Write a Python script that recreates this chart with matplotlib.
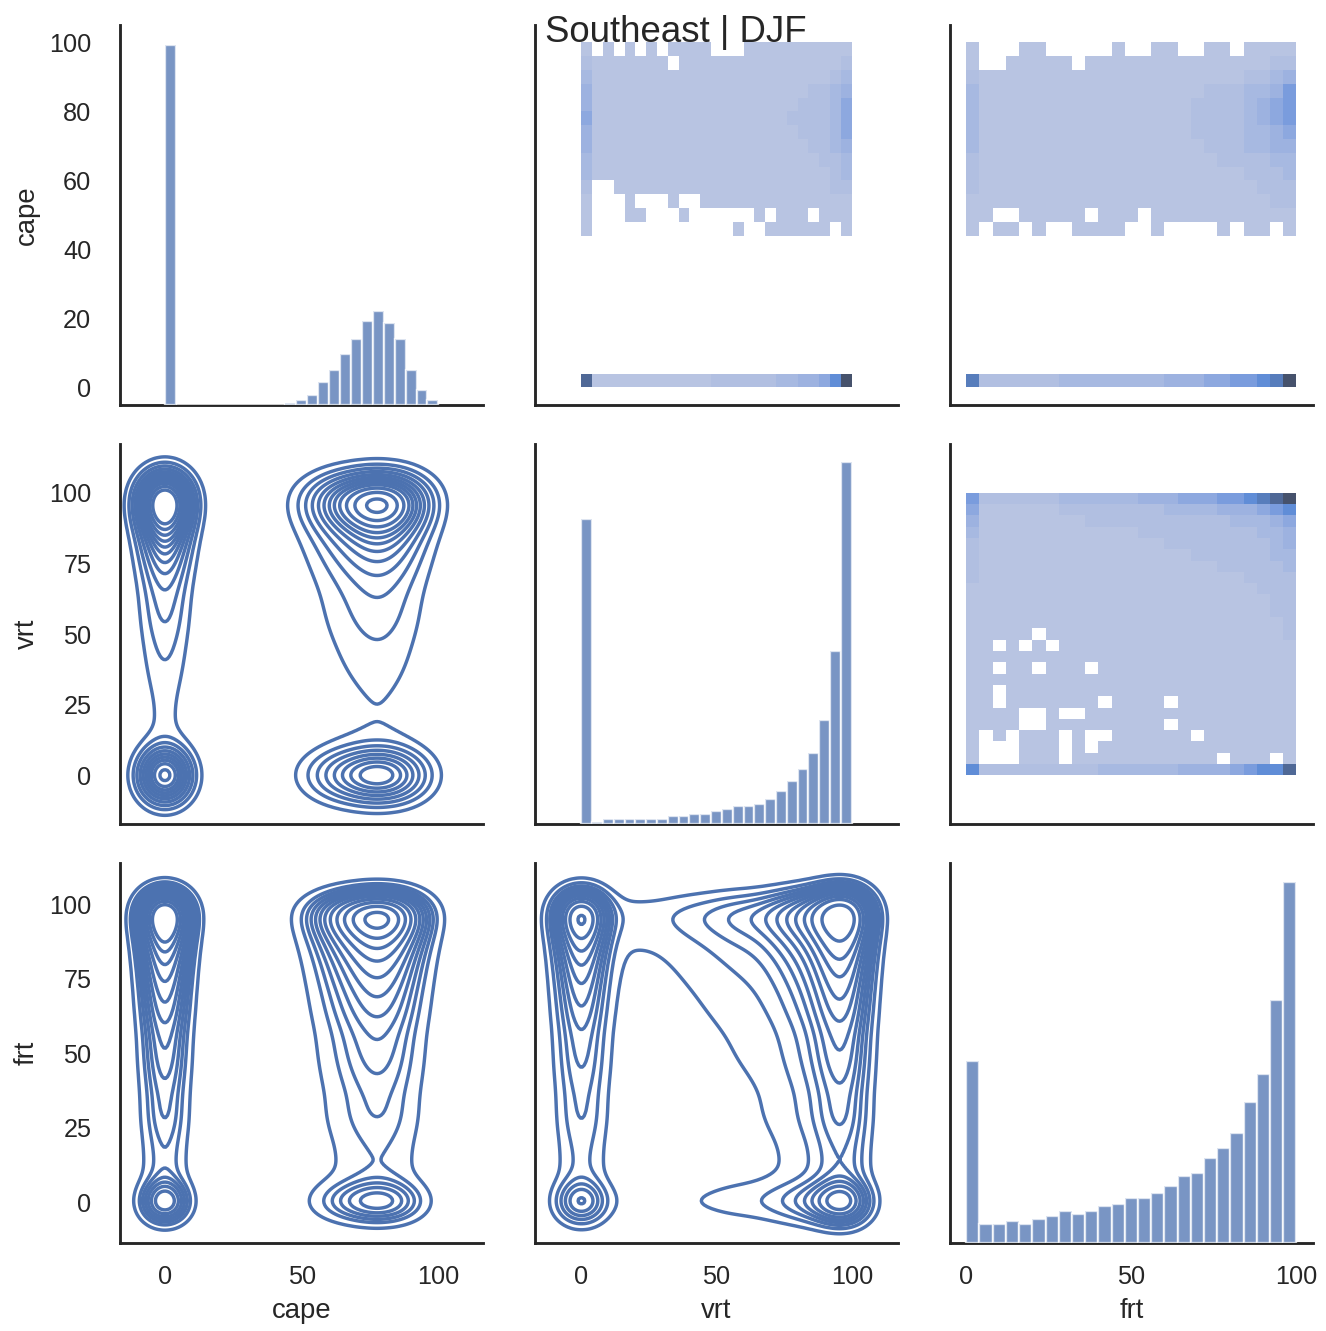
import numpy as np
import matplotlib
matplotlib.use("Agg")
import matplotlib.pyplot as plt
import matplotlib.colors as mcolors
import seaborn as sns
from seaborn.external import husl

# ---------------- data ----------------
variables = ["cape", "vrt", "frt"]
title = "Southeast | DJF"

bin_edges = np.arange(0, 101, 4)  # 25 bins of width 4 on 0..100

# diagonal histograms (relative counts per bin)
cape_counts = [1075, 0, 0, 0, 0, 0, 0, 0, 0, 0, 0,
               5, 15, 30, 67, 105, 150, 197, 250, 280, 243, 197, 105, 45, 15]
vrt_counts = [912, 5, 15, 15, 15, 15, 15, 15, 22, 22, 30, 30, 38, 45,
              52, 52, 60, 75, 98, 128, 165, 212, 310, 517, 1080]
frt_counts = [543, 56, 56, 65, 56, 73, 80, 95, 86, 95, 110, 118, 133, 133,
              148, 170, 201, 210, 255, 285, 330, 421, 505, 726, 1078]

n_obs = 107000   # sample size guessed from the kde support (bw ~ 5.5 for cape)
kde_levels = 13

x_ticks = [0, 50, 100]
y_ticks = {"cape": [0, 20, 40, 60, 80, 100],
           "vrt": [0, 25, 50, 75, 100],
           "frt": [0, 25, 50, 75, 100]}

# 2d histogram shades, first string = highest y bin, '.' = empty cell
empty = "." * 25
cape_vs_vrt = [
    "1.1.1.1.1111...1111111111",
    "2" + "1" * 7 + "." + "1" * 15 + "2",
    "3" + "1" * 22 + "23",
    "4" + "1" * 20 + "2234",
    "4" + "1" * 19 + "22235",
    "5" + "1" * 18 + "222235",
    "4" + "1" * 19 + "22235",
    "4" + "1" * 20 + "2234",
    "3" + "1" * 21 + "223",
    "3" + "1" * 22 + "23",
    "2.." + "1" * 20 + "22",
    "1...1...1.." + "1" * 14,
    "1...11...1......1.111.111",
    "1" + "." * 13 + "1..111111.1",
] + [empty] * 10 + [
    "9" + "1" * 11 + "2" * 6 + "3344" + "57#",
]
cape_vs_frt = [
    "1...11.....1..11..11.1111",
    "1..11111." + "1" * 14 + "22",
    "2" + "1" * 20 + "2234",
    "3" + "1" * 17 + "222" + "3346",
    "3" + "1" * 16 + "2222" + "3456",
    "3" + "1" * 16 + "2222" + "3456",
    "3" + "1" * 16 + "2222" + "3345",
    "3" + "1" * 17 + "222" + "3344",
    "2" + "1" * 18 + "222" + "233",
    "2" + "1" * 20 + "2223",
    "2" + "1" * 21 + "222",
    "1" * 23 + "22",
    "11..11111.111.11111111111",
    "1.11.1..1111..1....1.11.1",
] + [empty] * 10 + [
    "8" + "2" * 6 + "3" * 8 + "444" + "55" + "66" + "78#",
]
vrt_vs_frt = [
    "6" + "2" * 6 + "3" * 6 + "444" + "555" + "66" + "789#",
    "5" + "1" * 6 + "2" * 8 + "3333" + "44" + "4567",
    "4" + "1" * 8 + "2" * 11 + "33345",
    "3" + "1" * 12 + "2" * 9 + "334",
    "2" + "1" * 14 + "2" * 8 + "34",
    "2" + "1" * 16 + "2" * 6 + "33",
    "2" + "1" * 18 + "2" * 5 + "3",
    "2" + "1" * 20 + "2222",
    "1" * 22 + "222",
    "1" * 23 + "22",
    "1" * 23 + "22",
    "1" * 24 + "2",
    "11111." + "1" * 18 + "2",
    "11.1.1." + "1" * 18,
    "1" * 25,
    "11.11.111." + "1" * 15,
    "1" * 25,
    "11." + "1" * 22,
    "11.1111111.1111.111111111",
    "1111..1.." + "1" * 16,
    "1111..111111111.111111111",
    "1.1.111.1..111111.1111111",
    "1...111.1." + "1" * 15,
    "1...111." + "1" * 11 + ".111.1",
    "7" + "2" * 9 + "3" * 6 + "4444" + "5677" + "9",
]
shade_chars = "123456789#"
shade_values = [0.02, 0.06, 0.11, 0.17, 0.25, 0.35, 0.48, 0.62, 0.8, 1.0]

counts = {"cape": cape_counts, "vrt": vrt_counts, "frt": frt_counts}
hist2d = {(0, 1): cape_vs_vrt, (0, 2): cape_vs_frt, (1, 2): vrt_vs_frt}

# ---------------- helpers ----------------
centers = bin_edges[:-1] + 2.0
kde_points = centers.copy()
kde_points[0] = 0.0  # the spike values sit at exactly 0


def grid_to_array(rows):
    vals = np.full((25, 25), np.nan)
    for i, row in enumerate(rows[::-1]):
        if len(row) != 25:
            raise ValueError(f"bad row {i}: {row}")
        for j, ch in enumerate(row):
            if ch != ".":
                vals[i, j] = shade_values[shade_chars.index(ch)]
    return np.ma.masked_invalid(vals)


def kde_1d(cnt):
    w = np.asarray(cnt, float)
    w = w / w.sum()
    mean = np.sum(w * kde_points)
    std = np.sqrt(np.sum(w * (kde_points - mean) ** 2))
    bw = std * n_obs ** (-1 / 6)
    grid = np.linspace(kde_points.min() - 3 * bw, bin_edges[-1] + 3 * bw, 200)
    z = (grid[:, None] - kde_points[None, :]) / bw
    dens = (w * np.exp(-0.5 * z ** 2)).sum(axis=1) / (bw * np.sqrt(2 * np.pi))
    return grid, dens


def iso_levels(dens, n):
    props = np.linspace(0.05, 1, n)
    vals = np.sort(dens.ravel())[::-1]
    cum = np.cumsum(vals) / vals.sum()
    idx = np.searchsorted(cum, 1 - props)
    return np.unique(vals.take(idx, mode="clip"))


def hist_cmap(color):
    h, s, _ = husl.rgb_to_husl(*mcolors.to_rgb(color))
    xx = np.linspace(-1, 1, int(1.15 * 256))[:256]
    ramp = np.zeros((256, 3))
    ramp[:, 0] = h
    ramp[:, 1] = s * np.cos(xx)
    ramp[:, 2] = np.linspace(35, 80, 256)
    cols = np.clip([husl.husl_to_rgb(*hsl) for hsl in ramp], 0, 1)
    return mcolors.ListedColormap(cols[::-1])


# ---------------- plotting ----------------
sns.set_theme(style="white")
plt.rcParams["font.family"] = ["Liberation Sans", "DejaVu Sans"]
plt.rcParams["ytick.major.pad"] = 6.5

blue = sns.color_palette("deep")[0]
cmap = hist_cmap(blue)

dpi = 165
fig, axes = plt.subplots(3, 3, figsize=(1326 / dpi, 1331 / dpi), dpi=dpi,
                         sharex="col", sharey="row")
fig.subplots_adjust(left=0.0905, right=0.9902, bottom=0.0661, top=0.9812,
                    wspace=0.142, hspace=0.104)

kdes = {v: kde_1d(counts[v]) for v in variables}
count_top = 1.05 * max(max(c) for c in counts.values())

for i, yv in enumerate(variables):
    for j, xv in enumerate(variables):
        ax = axes[i, j]
        if i == j:
            tw = ax.twinx()
            tw.bar(bin_edges[:-1], counts[xv], width=4, align="edge",
                   color=blue, alpha=0.75, edgecolor="white", linewidth=1)
            tw.set_ylim(0, count_top)
            tw.set_axis_off()
            ax.tick_params(left=False, right=False, bottom=False)
        elif i < j:
            ax.pcolormesh(bin_edges, bin_edges, grid_to_array(hist2d[(i, j)]),
                          cmap=cmap, vmin=0, vmax=1)
        else:
            gx, dx = kdes[xv]
            gy, dy = kdes[yv]
            dens = np.outer(dy, dx)
            ax.contour(gx, gy, dens, levels=iso_levels(dens, kde_levels),
                       colors=[blue], linewidths=1.5)

hist_pad = 0.05 * (bin_edges[-1] - bin_edges[0])
for k, v in enumerate(variables):
    g = kdes[v][0]
    if k < 2:
        axes[0, k].set_xlim(g[0], g[-1])
    else:
        axes[0, k].set_xlim(bin_edges[0] - hist_pad, bin_edges[-1] + hist_pad)
    if k > 0:
        axes[k, 0].set_ylim(g[0], g[-1])
    else:
        axes[k, 0].set_ylim(bin_edges[0] - hist_pad, bin_edges[-1] + hist_pad)
    axes[2, k].set_xticks(x_ticks)
    axes[k, 0].set_yticks(y_ticks[v])
    axes[2, k].set_xlabel(v)
    axes[k, 0].set_ylabel(v)

sns.despine(fig=fig)

fig.text(0.51, 0.9685, title, ha="center", va="baseline", fontsize=16)

fig.savefig("out.png", dpi=dpi)
